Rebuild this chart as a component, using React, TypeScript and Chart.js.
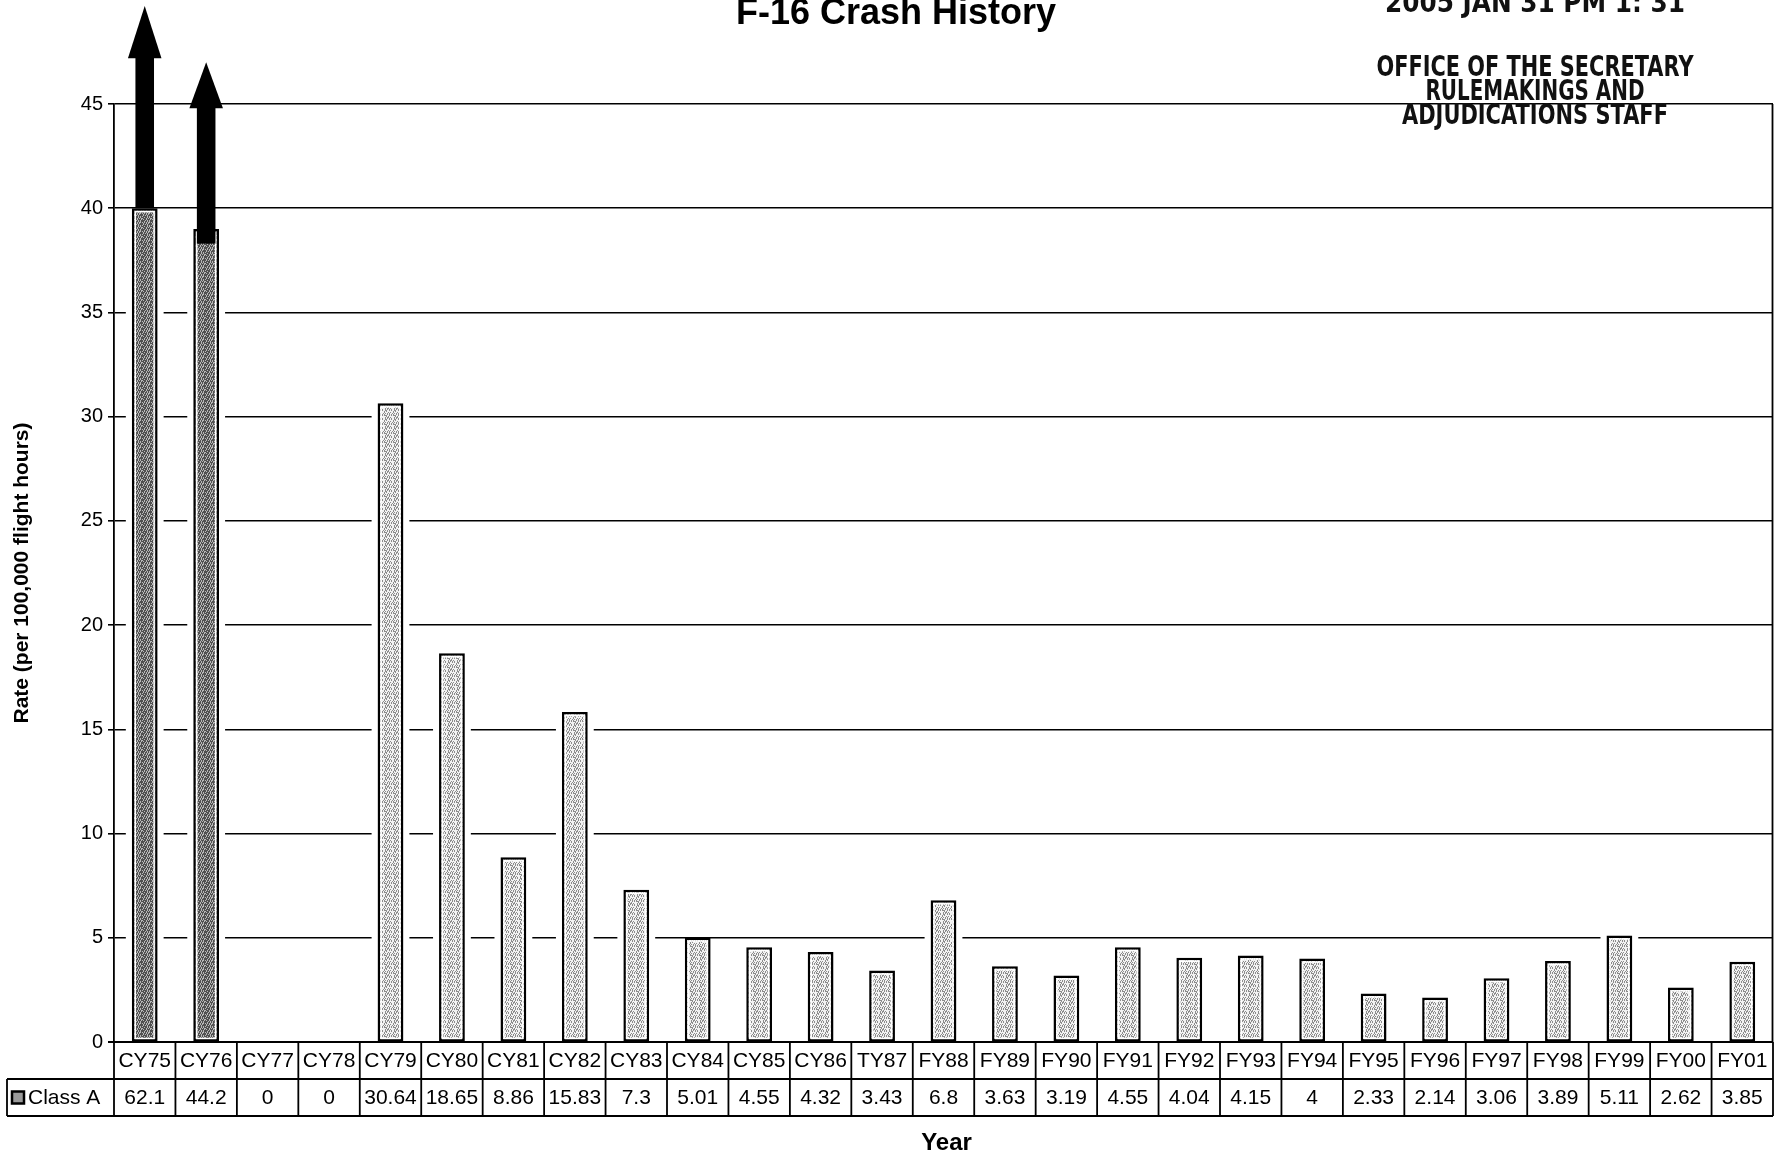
import React, { useEffect, useRef } from 'react';
import { Chart, registerables } from 'chart.js';

Chart.register(...registerables);

// ---------- data ----------
const categories = ['CY75', 'CY76', 'CY77', 'CY78', 'CY79', 'CY80', 'CY81', 'CY82', 'CY83', 'CY84', 'CY85', 'CY86', 'TY87', 'FY88', 'FY89', 'FY90', 'FY91', 'FY92', 'FY93', 'FY94', 'FY95', 'FY96', 'FY97', 'FY98', 'FY99', 'FY00', 'FY01'];
const rates = [62.1, 44.2, 0, 0, 30.64, 18.65, 8.86, 15.83, 7.3, 5.01, 4.55, 4.32, 3.43, 6.8, 3.63, 3.19, 4.55, 4.04, 4.15, 4, 2.33, 2.14, 3.06, 3.89, 5.11, 2.62, 3.85];
const seriesName = 'Class A';

const yMin = 0;
const yMax = 45;
const yStep = 5;

// off-scale bars (axis break shown with arrows)
const brokenCategories = ['CY75', 'CY76'];
const brokenBarTops = [40, 39];
const arrowBases = [40, 38.3];
const arrowHeadBases = [47.2, 44.8];
const arrowTips = [49.7, 47.0];

const chartTitle = 'F-16 Crash History';
const yTitle = 'Rate (per 100,000 flight hours)';
const xTitle = 'Year';
const stampLines = ['2005 JAN 31 PM 1: 31', 'OFFICE OF THE SECRETARY', 'RULEMAKINGS AND', 'ADJUDICATIONS STAFF'];

// ---------- helpers ----------
const FONT = '"Liberation Sans", Arial, Helvetica, sans-serif';

function makeStipple(dark: boolean): CanvasPattern | string {
  const size = 9;
  const c = document.createElement('canvas');
  c.width = size;
  c.height = size;
  const g = c.getContext('2d');
  if (!g) return dark ? '#7e7e7e' : '#c4c4c4';
  g.fillStyle = dark ? '#b8b8b8' : '#f2f2f2';
  g.fillRect(0, 0, size, size);
  for (let y = 0; y < size; y++) {
    for (let x = 0; x < size; x++) {
      const h = (x * 5 + y * 7 + ((x * y) % 4)) % 9;
      if (dark ? h < 6 : h < 4) {
        g.fillStyle = dark ? '#505050' : '#8c8c8c';
        g.fillRect(x, y, 1, 1);
      }
    }
  }
  const p = g.createPattern(c, 'repeat');
  return p || (dark ? '#7e7e7e' : '#c4c4c4');
}

const shownValues = rates.map((v, i) => {
  const k = brokenCategories.indexOf(categories[i]);
  return k >= 0 ? brokenBarTops[k] : v;
});
const tableLabels = rates.map((v) => String(v));

const decorPlugin = {
  id: 'decor',
  beforeDatasetsDraw(chart: any) {
    const ctx = chart.ctx;
    const meta = chart.getDatasetMeta(0);
    const base = chart.scales.y.getPixelForValue(0);
    ctx.save();
    ctx.fillStyle = '#ffffff';
    meta.data.forEach((bar: any, i: number) => {
      if (!shownValues[i]) return;
      const { x, y, width } = bar.getProps(['x', 'y', 'width'], true);
      ctx.fillRect(x - width / 2 - 6, y + 1.5, width + 12, base - y - 3);
    });
    ctx.restore();
  },
  afterDatasetsDraw(chart: any) {
    const ctx = chart.ctx;
    const meta = chart.getDatasetMeta(0);
    const ys = chart.scales.y;
    const base = ys.getPixelForValue(0);
    ctx.save();
    // thin white inner edge inside each bar outline
    ctx.strokeStyle = '#ffffff';
    ctx.lineWidth = 1.5;
    meta.data.forEach((bar: any, i: number) => {
      if (!shownValues[i]) return;
      const { x, y, width } = bar.getProps(['x', 'y', 'width'], true);
      ctx.strokeRect(x - width / 2 + 3.5, y + 3.5, width - 7, base - y - 7);
    });
    ctx.fillStyle = '#000';
    brokenCategories.forEach((cat, k) => {
      const i = categories.indexOf(cat);
      const bar: any = meta.data[i];
      const { x, width } = bar.getProps(['x', 'width'], true);
      const yb = ys.getPixelForValue(arrowBases[k]);
      const yh = ys.getPixelForValue(arrowHeadBases[k]);
      const yt = ys.getPixelForValue(arrowTips[k]);
      const shaftW = width * 0.72;
      const headW = width * 1.3;
      ctx.fillRect(x - shaftW / 2, yh - 1, shaftW, yb - yh + 1);
      ctx.beginPath();
      ctx.moveTo(x - headW / 2, yh);
      ctx.lineTo(x + headW / 2, yh);
      ctx.lineTo(x, yt);
      ctx.closePath();
      ctx.fill();
    });
    ctx.restore();
  },
  afterDraw(chart: any) {
    const ctx = chart.ctx;
    const area = chart.chartArea;
    const xs = chart.scales.x;
    const n = categories.length;
    const w = (area.right - area.left) / n;
    const top = area.bottom;
    const rowH = 37;
    const legendLeft = 7;

    ctx.save();
    ctx.strokeStyle = '#000';
    ctx.fillStyle = '#000';
    ctx.lineWidth = 1.8;

    // right plot border
    ctx.beginPath();
    ctx.moveTo(area.right - 0.5, area.top);
    ctx.lineTo(area.right - 0.5, area.bottom);
    ctx.stroke();

    // table lines
    ctx.beginPath();
    ctx.moveTo(area.left - 6, top);
    ctx.lineTo(area.right, top);
    ctx.moveTo(legendLeft, top + rowH);
    ctx.lineTo(area.right, top + rowH);
    ctx.moveTo(legendLeft, top + 2 * rowH);
    ctx.lineTo(area.right, top + 2 * rowH);
    ctx.moveTo(legendLeft, top + rowH);
    ctx.lineTo(legendLeft, top + 2 * rowH);
    for (let i = 0; i <= n; i++) {
      const ex = i < n ? xs.getPixelForTick(i) - w / 2 : xs.getPixelForTick(n - 1) + w / 2;
      ctx.moveTo(ex, top);
      ctx.lineTo(ex, top + 2 * rowH);
    }
    ctx.stroke();

    // table text
    ctx.font = `21px ${FONT}`;
    ctx.textAlign = 'center';
    ctx.textBaseline = 'middle';
    categories.forEach((c, i) => {
      const cx = xs.getPixelForTick(i);
      ctx.fillText(c, cx, top + rowH / 2 + 1);
      ctx.fillText(tableLabels[i], cx, top + rowH * 1.5 + 1);
    });

    // legend key in table
    const keyY = top + rowH * 1.5;
    ctx.fillStyle = '#9a9a9a';
    ctx.fillRect(12, keyY - 6, 12, 12);
    ctx.lineWidth = 2.5;
    ctx.strokeRect(12, keyY - 6, 12, 12);
    ctx.fillStyle = '#000';
    ctx.textAlign = 'left';
    ctx.fillText(seriesName, 28, keyY + 1);

    // x title
    ctx.font = `bold 24px ${FONT}`;
    ctx.textAlign = 'center';
    ctx.fillText(xTitle, (area.left + area.right) / 2 + 3, 1143);

    // chart title
    ctx.font = `bold 36px ${FONT}`;
    ctx.textBaseline = 'alphabetic';
    ctx.fillText(chartTitle, 896, 24);

    // stamp
    ctx.font = `bold 28px "DejaVu Sans", sans-serif`;
    ctx.fillStyle = '#111';
    const stampX = 1535;
    const stampBase = [12, 76, 100, 124];
    const stampWidths = [300, 317, 219, 266];
    stampLines.forEach((t, k) => {
      ctx.fillText(t, stampX, stampBase[k], stampWidths[k]);
    });
    ctx.restore();
  },
};

export default function App() {
  const canvasRef = useRef<HTMLCanvasElement | null>(null);

  useEffect(() => {
    if (!canvasRef.current) return;
    Chart.defaults.font.family = FONT;
    Chart.defaults.color = '#000';
    const darkFill = makeStipple(true);
    const lightFill = makeStipple(false);
    const fills = categories.map((c) => (brokenCategories.includes(c) ? darkFill : lightFill));
    const chart = new Chart(canvasRef.current, {
      type: 'bar',
      data: {
        labels: categories,
        datasets: [
          {
            label: seriesName,
            data: shownValues,
            backgroundColor: fills,
            borderColor: '#000',
            borderWidth: shownValues.map((v) => (v ? 2.5 : 0)),
            borderSkipped: false,
            barPercentage: 0.42,
            categoryPercentage: 1,
          },
        ],
      },
      options: {
        animation: false,
        responsive: false,
        devicePixelRatio: 1,
        layout: { padding: { top: 104, bottom: 114, left: 0, right: 1 } },
        plugins: {
          legend: { display: false },
          tooltip: { enabled: false },
          title: { display: false },
        },
        scales: {
          x: { display: false },
          y: {
            min: yMin,
            max: yMax,
            ticks: { stepSize: yStep, padding: 5, font: { size: 20 }, color: '#000' },
            grid: { color: '#000', lineWidth: 1.6, tickLength: 6, drawTicks: true },
            border: { display: true, color: '#000', width: 1.8 },
            title: {
              display: true,
              text: yTitle,
              font: { size: 21, weight: 'bold' },
              color: '#000',
              padding: { top: 10, bottom: 0 },
            },
            afterFit: (scale: any) => {
              scale.width = 114;
            },
          },
        },
      },
      plugins: [decorPlugin],
    } as any);
    return () => chart.destroy();
  }, []);

  return (
    <div style={{ position: 'absolute', left: 0, top: 0, width: 1774, height: 1156, background: '#fff', overflow: 'hidden' }}>
      <canvas ref={canvasRef} width={1774} height={1156} style={{ width: 1774, height: 1156, display: 'block' }} />
    </div>
  );
}
